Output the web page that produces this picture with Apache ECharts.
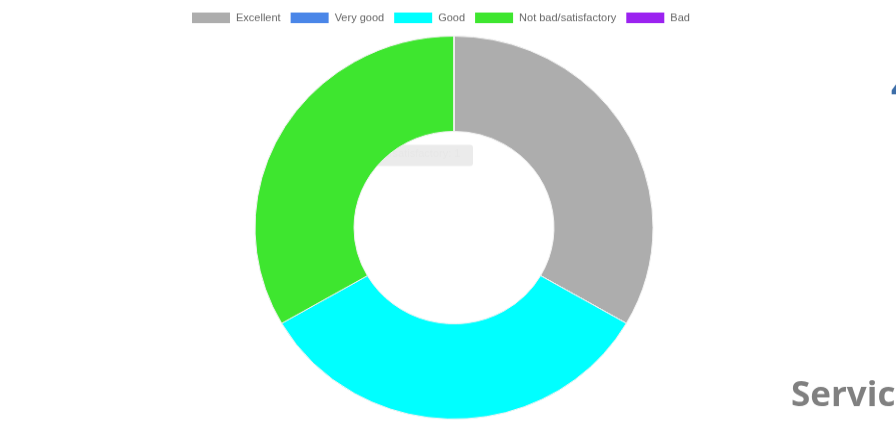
<!DOCTYPE html>
<html>
<head>
<meta charset="utf-8">
<script src="https://cdn.jsdelivr.net/npm/echarts@6/dist/echarts.min.js"></script>
<style>
  html, body { margin: 0; padding: 0; background: #fff; overflow: hidden; }
  #wrap { width: 896px; height: 422px; overflow: hidden; position: relative; }
  #chart { width: 896px; height: 438.5px; transform: scaleY(0.9623); transform-origin: 0 0; }
</style>
</head>
<body>
<div id="wrap"><div id="chart"></div></div>
<script>
const categories = ['Excellent', 'Very good', 'Good', 'Not bad/satisfactory', 'Bad'];
const values = [1, 0, 1, 1, 0];
const colors = ['#adadad', '#4a86e8', '#00ffff', '#3ee62f', '#9b22f0'];
const tooltipText = 'Not bad/satisfactory: 1';
const sideTitle = 'Servic';
const sideNumber = '4';

const chart = echarts.init(document.getElementById('chart'), null, { renderer: 'canvas' });
chart.setOption({
  animation: false,
  backgroundColor: '#ffffff',
  color: colors,
  legend: {
    data: categories,
    left: 192,
    top: 13,
    padding: 0,
    icon: 'rect',
    itemWidth: 38,
    itemHeight: 11,
    itemGap: 10,
    selectedMode: false,
    itemStyle: { borderWidth: 0 },
    textStyle: { color: '#666666', fontSize: 11, fontFamily: 'Liberation Sans, Arial, sans-serif', padding: [0, 0, 0, 1] }
  },
  series: [{
    type: 'pie',
    center: [454, 236.5],
    radius: [100, 199],
    startAngle: 90,
    clockwise: true,
    silent: true,
    label: { show: false },
    labelLine: { show: false },
    itemStyle: { borderColor: '#f2f2f2', borderWidth: 1 },
    data: categories.map((c, i) => ({ name: c, value: values[i] }))
  }],
  graphic: [
    {
      type: 'group',
      left: 327, top: 150.5,
      children: [
        { type: 'polygon', shape: { points: [[0, 5.5], [6, 1], [6, 10]] }, style: { fill: 'rgba(0,0,0,0.08)' } },
        { type: 'rect', shape: { x: 6, y: 0, width: 140, height: 22, r: 3 }, style: { fill: 'rgba(0,0,0,0.08)' } },
        { type: 'rect', shape: { x: 9, y: 4, width: 11, height: 11 }, style: { fill: 'rgba(0,0,0,0.06)' } },
        { type: 'text', x: 24, y: 4, style: { text: tooltipText, fill: 'rgba(0,0,0,0.02)', fontSize: 11, fontFamily: 'Liberation Sans, Arial, sans-serif' } }
      ]
    },
    {
      type: 'text', left: 791, top: 395,
      style: { text: sideTitle, fill: '#808080', fontSize: 35, fontWeight: 'bold', fontFamily: 'Open Sans, Liberation Sans, sans-serif' }
    },
    {
      type: 'text', left: 891, top: 73,
      style: { text: sideNumber, fill: '#3d6ea8', fontSize: 40, fontWeight: 'bold', fontFamily: 'Open Sans, Liberation Sans, sans-serif' }
    }
  ]
});
</script>
</body>
</html>
